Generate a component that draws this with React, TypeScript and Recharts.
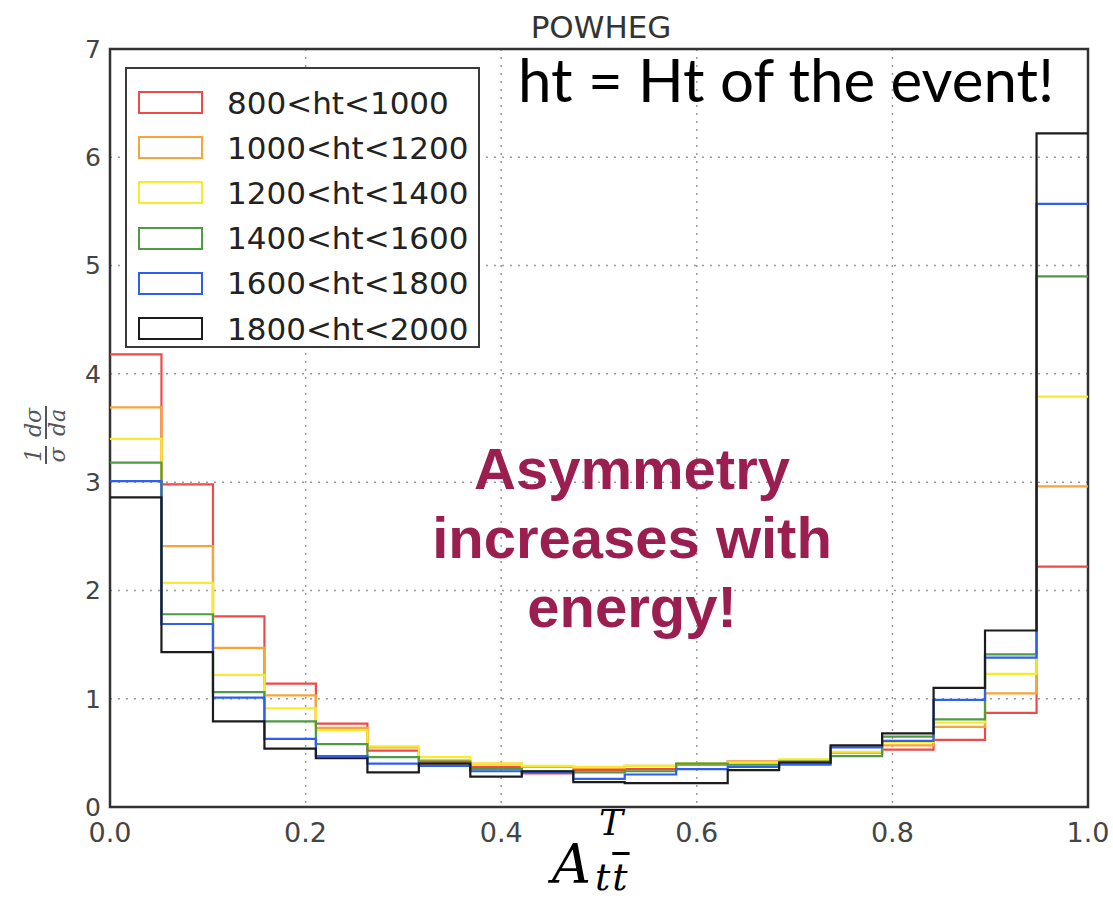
import { LineChart, Line, XAxis, YAxis, CartesianGrid, ReferenceArea, Legend } from 'recharts';

// lower bin edges (19 bins over 0..1) plus the closing edge
const binEdges = [
  0, 0.0526, 0.1053, 0.1579, 0.2105, 0.2632, 0.3158, 0.3684, 0.4211, 0.4737,
  0.5263, 0.5789, 0.6316, 0.6842, 0.7368, 0.7895, 0.8421, 0.8947, 0.9474, 1.0,
];

const ht800 = [4.18, 2.98, 1.76, 1.14, 0.77, 0.52, 0.41, 0.37, 0.31, 0.34, 0.35, 0.39, 0.42, 0.42, 0.5, 0.53, 0.62, 0.87, 2.22];
const ht1000 = [3.69, 2.41, 1.47, 1.03, 0.73, 0.55, 0.43, 0.4, 0.37, 0.36, 0.38, 0.4, 0.42, 0.43, 0.5, 0.57, 0.74, 1.05, 2.96];
const ht1200 = [3.4, 2.07, 1.22, 0.91, 0.71, 0.56, 0.46, 0.4, 0.38, 0.37, 0.38, 0.4, 0.41, 0.44, 0.51, 0.6, 0.78, 1.23, 3.79];
const ht1400 = [3.18, 1.78, 1.06, 0.79, 0.58, 0.46, 0.42, 0.35, 0.33, 0.32, 0.33, 0.4, 0.39, 0.42, 0.47, 0.65, 0.81, 1.41, 4.9];
const ht1600 = [3.01, 1.69, 1.01, 0.63, 0.47, 0.4, 0.38, 0.33, 0.32, 0.26, 0.3, 0.35, 0.37, 0.39, 0.55, 0.61, 0.99, 1.38, 5.57];
const ht1800 = [2.86, 1.43, 0.79, 0.54, 0.45, 0.32, 0.4, 0.28, 0.33, 0.23, 0.22, 0.22, 0.34, 0.41, 0.57, 0.68, 1.1, 1.63, 6.22];

const SERIES = [
  { key: 'ht800', label: '800<ht<1000', color: '#ef4a4a', values: ht800 },
  { key: 'ht1000', label: '1000<ht<1200', color: '#f6a53a', values: ht1000 },
  { key: 'ht1200', label: '1200<ht<1400', color: '#f7ec2a', values: ht1200 },
  { key: 'ht1400', label: '1400<ht<1600', color: '#4f9a44', values: ht1400 },
  { key: 'ht1600', label: '1600<ht<1800', color: '#2f5ff2', values: ht1600 },
  { key: 'ht1800', label: '1800<ht<2000', color: '#1c1c1c', values: ht1800 },
];

const xTicks = [0, 0.2, 0.4, 0.6, 0.8, 1.0];
const yTicks = [0, 1, 2, 3, 4, 5, 6, 7];

// step data: one row per edge, last edge repeats the last bin
const data = binEdges.map((x, i) => {
  const row: Record<string, number> = { x };
  for (const s of SERIES) {
    row[s.key] = s.values[Math.min(i, s.values.length - 1)];
  }
  return row;
});

const MPL_FONT = '"DejaVu Sans", sans-serif';

function LegendBox() {
  return (
    <div
      style={{
        width: 355,
        height: 281,
        border: '2px solid #3a3a3a',
        background: '#fff',
        boxSizing: 'border-box',
        paddingTop: 11,
        fontFamily: MPL_FONT,
      }}
    >
      {SERIES.map((s) => (
        <div key={s.key} style={{ display: 'flex', alignItems: 'center', height: 45.2 }}>
          <span
            style={{
              marginLeft: 11,
              width: 65,
              height: 23,
              border: `2px solid ${s.color}`,
              boxSizing: 'border-box',
              display: 'inline-block',
            }}
          />
          <span style={{ marginLeft: 24, fontSize: 31, color: '#222', whiteSpace: 'nowrap' }}>{s.label}</span>
        </div>
      ))}
    </div>
  );
}

export default function App() {
  return (
    <div style={{ position: 'absolute', left: 0, top: 0, width: 1113, height: 903, background: '#fff' }}>
      <LineChart width={1113} height={903} data={data} margin={{ top: 49, right: 25, left: 50, bottom: 56 }}>
        <CartesianGrid stroke="#9a9a9a" strokeDasharray="2 6" strokeWidth={1.5} />
        <XAxis
          dataKey="x"
          type="number"
          domain={[0, 1]}
          ticks={xTicks}
          tickFormatter={(v: number) => v.toFixed(1)}
          tick={{ fontSize: 27, fill: '#444', fontFamily: MPL_FONT }}
          axisLine={false}
          tickLine={false}
          tickMargin={10}
          height={40}
          allowDataOverflow
        />
        <YAxis
          type="number"
          domain={[0, 7]}
          ticks={yTicks}
          tick={{ fontSize: 25, fill: '#444', fontFamily: MPL_FONT }}
          axisLine={false}
          tickLine={false}
          tickMargin={3}
          width={60}
        />
        {SERIES.map((s) => (
          <Line
            key={s.key}
            dataKey={s.key}
            type="stepAfter"
            stroke={s.color}
            strokeWidth={2.2}
            dot={false}
            activeDot={false}
            isAnimationActive={false}
          />
        ))}
        <ReferenceArea x1={0} x2={1} y1={0} y2={7} fill="none" stroke="#333" strokeWidth={2.5} ifOverflow="visible" />
        <Legend
          layout="vertical"
          align="center"
          verticalAlign="middle"
          wrapperStyle={{ left: 125, top: 67, width: 355 }}
          content={() => <LegendBox />}
        />
      </LineChart>

      {/* title */}
      <div
        style={{
          position: 'absolute', left: 0, width: 1202, top: 12, textAlign: 'center',
          fontFamily: MPL_FONT, fontSize: 31, color: '#333', lineHeight: 1,
        }}
      >
        POWHEG
      </div>

      {/* slide annotation */}
      <div
        style={{
          position: 'absolute', left: 518, top: 49, fontFamily: 'Lato, sans-serif',
          fontSize: 60, color: '#000', whiteSpace: 'nowrap', lineHeight: 1,
        }}
      >
        ht = Ht of the event!
      </div>
      <div
        style={{
          position: 'absolute', left: 332, width: 600, top: 434, textAlign: 'center',
          fontFamily: '"Liberation Sans", Arial, sans-serif', fontWeight: 700, fontSize: 58,
          color: '#9a1f50', lineHeight: '69px',
        }}
      >
        Asymmetry
        <br />
        increases with
        <br />
        energy!
      </div>

      {/* x axis label */}
      <div
        style={{
          position: 'absolute', left: 552, top: 838, fontFamily: '"DejaVu Serif", serif',
          fontStyle: 'italic', fontSize: 54, color: '#000', whiteSpace: 'nowrap', lineHeight: 1,
        }}
      >
        A
        <span style={{ position: 'absolute', left: 47, top: -33, fontSize: 36 }}>T</span>
        <span style={{ position: 'absolute', left: 43, top: 20, fontSize: 38, letterSpacing: 2 }}>
          t<span style={{ textDecoration: 'overline' }}>t</span>
        </span>
      </div>

      {/* y axis label */}
      <div
        style={{
          position: 'absolute', left: -14, top: 410, width: 120, height: 50,
          transform: 'rotate(-90deg)', transformOrigin: '50% 50%',
          display: 'flex', alignItems: 'center', justifyContent: 'center', gap: 7,
          fontFamily: '"DejaVu Serif", serif', fontStyle: 'italic', color: '#555', fontSize: 22,
        }}
      >
        <span style={{ display: 'inline-flex', flexDirection: 'column', alignItems: 'center', lineHeight: 1 }}>
          <span style={{ borderBottom: '2.5px solid #555', padding: '0 2px' }}>1</span>
          <span>σ</span>
        </span>
        <span style={{ display: 'inline-flex', flexDirection: 'column', alignItems: 'center', lineHeight: 1 }}>
          <span style={{ borderBottom: '2.5px solid #555', padding: '0 2px' }}>dσ</span>
          <span>da</span>
        </span>
      </div>
    </div>
  );
}
